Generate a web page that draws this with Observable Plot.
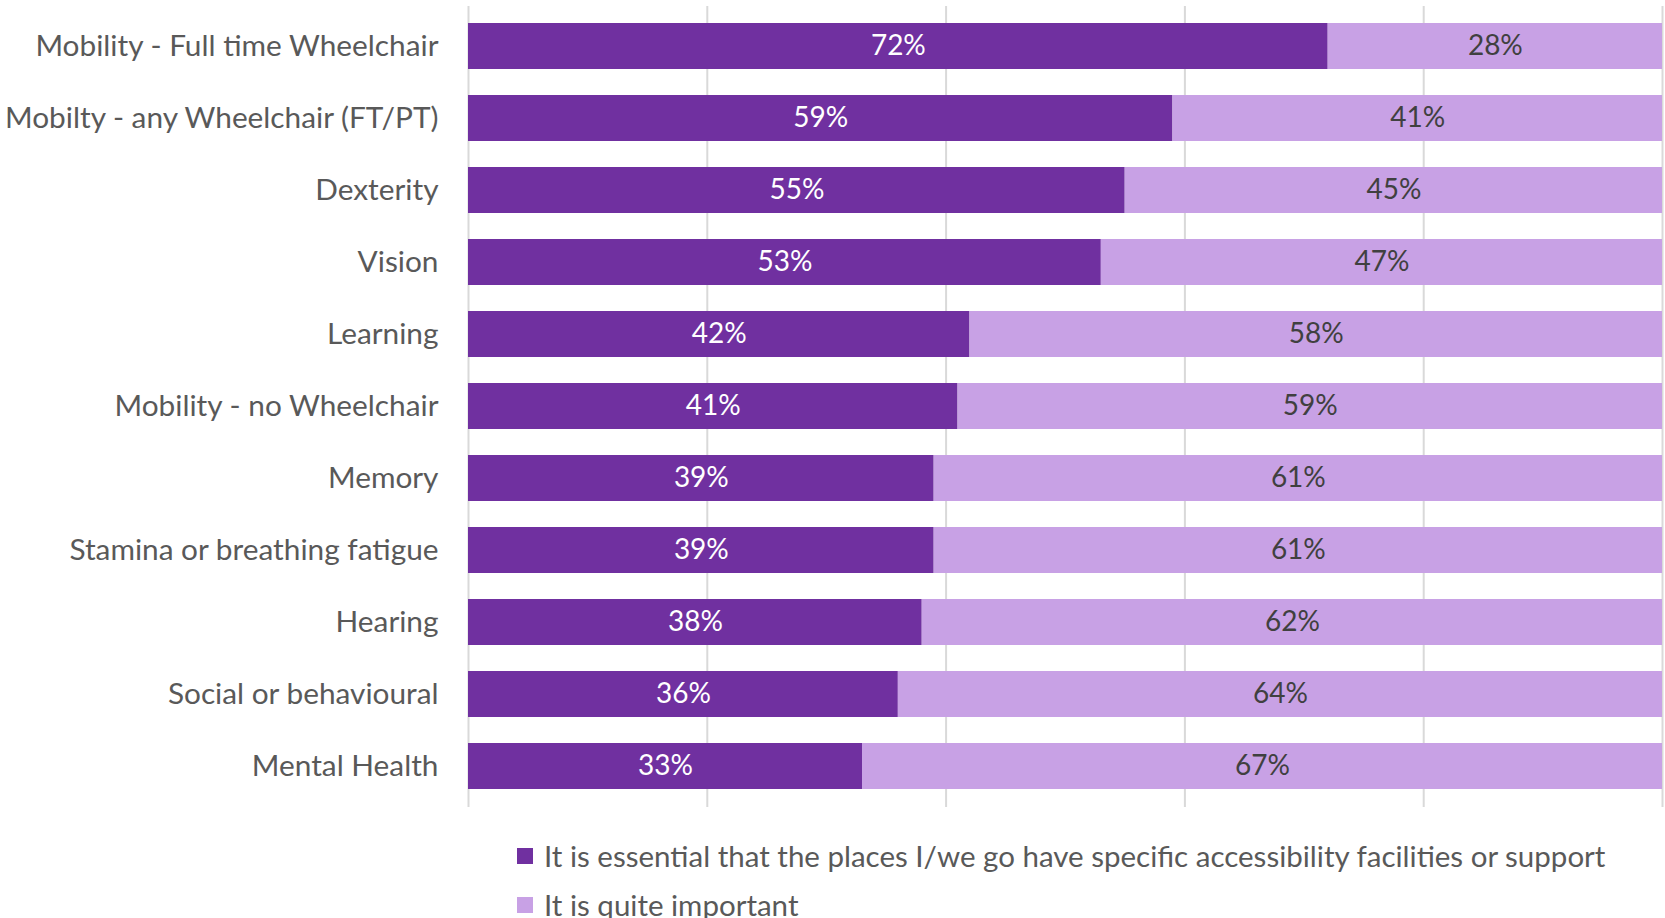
<!DOCTYPE html>
<html>
<head>
<meta charset="utf-8">
<script src="https://cdn.jsdelivr.net/npm/d3@7"></script>
<script src="https://cdn.jsdelivr.net/npm/@observablehq/plot@0.6"></script>
<style>
  html, body { margin: 0; padding: 0; background: #fff; overflow: hidden; }
  #chart { width: 1665px; }
  .legend { font-family: Lato, sans-serif; font-size: 29.5px; color: #595959; padding-top: 11px; margin-left: 517px; }
  .legend .row { display: flex; align-items: center; height: 49px; white-space: nowrap; }
  .legend .sw { width: 16px; height: 16px; margin-right: 11px; flex: none; }
</style>
</head>
<body>
<div id="chart"></div>
<script>
const categories = [
  "Mobility - Full time Wheelchair",
  "Mobilty - any Wheelchair (FT/PT)",
  "Dexterity",
  "Vision",
  "Learning",
  "Mobility - no Wheelchair",
  "Memory",
  "Stamina or breathing fatigue",
  "Hearing",
  "Social or behavioural",
  "Mental Health"
];
const essential = [72, 59, 55, 53, 42, 41, 39, 39, 38, 36, 33];
const quiteImportant = [28, 41, 45, 47, 58, 59, 61, 61, 62, 64, 67];
const seriesNames = [
  "It is essential that the places I/we go have specific accessibility facilities or support",
  "It is quite important"
];
const seriesColors = ["#7030A0", "#C8A1E5"];
const labelColors = ["#FFFFFF", "#404040"];
const gridTicks = [0, 20, 40, 60, 80, 100];

const rows = [];
categories.forEach((c, i) => rows.push({cat: c, series: seriesNames[0], value: essential[i]}));
categories.forEach((c, i) => rows.push({cat: c, series: seriesNames[1], value: quiteImportant[i]}));

const plot = Plot.plot({
  width: 1665,
  height: 820,
  marginLeft: 468,
  marginRight: 3,
  marginTop: 6,
  marginBottom: 13,
  style: {fontFamily: "Lato, sans-serif", fontSize: "29.8px", color: "#595959", background: "#fff"},
  x: {domain: [0, 100], axis: null},
  y: {domain: categories, paddingInner: 0.36, paddingOuter: 0.18, label: null, tickSize: 0, tickPadding: 30},
  color: {domain: seriesNames, range: seriesColors},
  marks: [
    Plot.ruleX(gridTicks, {stroke: "#D9D9D9", strokeWidth: 2}),
    Plot.barX(rows, Plot.stackX({x: "value", y: "cat", fill: "series", z: "series"})),
    Plot.text(rows, Plot.stackX({
      x: "value", y: "cat", z: "series",
      text: d => d.value + "%",
      fill: d => labelColors[seriesNames.indexOf(d.series)],
      fontSize: 28
    }))
  ]
});
document.getElementById("chart").appendChild(plot);

const legend = document.createElement("div");
legend.className = "legend";
seriesNames.forEach((s, i) => {
  const row = document.createElement("div");
  row.className = "row";
  const sw = document.createElement("span");
  sw.className = "sw";
  sw.style.background = seriesColors[i];
  const t = document.createElement("span");
  t.textContent = s;
  row.appendChild(sw);
  row.appendChild(t);
  legend.appendChild(row);
});
document.body.appendChild(legend);
</script>
</body>
</html>
